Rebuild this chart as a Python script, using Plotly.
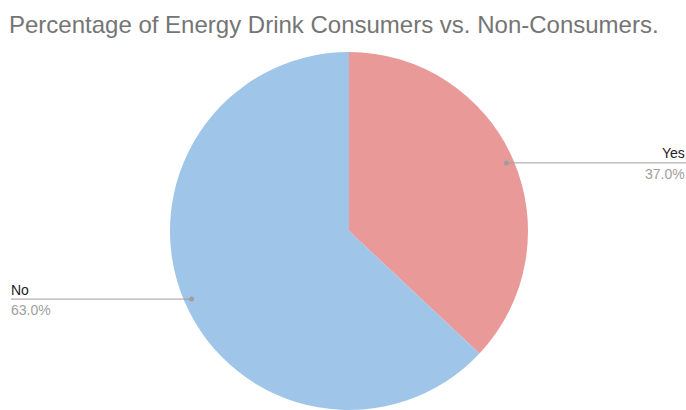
import math
import plotly.graph_objects as go

# Survey shares
labels = ["Yes", "No"]
values = [37.0, 63.0]
colors = ["#EA9999", "#9FC5E8"]

W, H = 686, 410
# Pie geometry in pixels
cx, cy, r = 349, 231, 179

FONT = "Liberation Sans, Arial, sans-serif"

fig = go.Figure(go.Pie(
    labels=labels,
    values=values,
    sort=False,
    direction="clockwise",
    rotation=0,
    textinfo="none",
    hoverinfo="label+percent",
    marker=dict(colors=colors, line=dict(width=0)),
    domain=dict(x=[(cx - r) / W, (cx + r) / W],
                y=[max(0.0, (H - cy - r) / H), min(1.0, (H - cy + r) / H)]),
    showlegend=False,
))

shapes = []
annotations = []
total = sum(values)
start = 0.0
for lab, val in zip(labels, values):
    mid = (start + val / 2) / total * 2 * math.pi
    start += val
    px = cx + math.sin(mid) * r * 0.958
    py = cy - math.cos(mid) * r * 0.958
    right = math.sin(mid) > 0
    x_end = W if right else 11
    # leader line and dot
    shapes.append(dict(type="line", xref="paper", yref="paper",
                       x0=px / W, x1=x_end / W, y0=1 - py / H, y1=1 - py / H,
                       line=dict(color="#9E9E9E", width=1)))
    shapes.append(dict(type="circle", xref="paper", yref="paper",
                       x0=(px - 2.5) / W, x1=(px + 2.5) / W,
                       y0=1 - (py + 2.5) / H, y1=1 - (py - 2.5) / H,
                       fillcolor="#9E9E9E", line=dict(width=0)))
    anchor = "right" if right else "left"
    annotations.append(dict(text=lab, xref="paper", yref="paper",
                            x=x_end / W, y=1 - (py + 0.5) / H, xanchor=anchor, yanchor="bottom",
                            showarrow=False, xshift=1 if right else -2,
                            font=dict(family=FONT, size=14, color="#222222")))
    annotations.append(dict(text=f"{val / total * 100:.1f}%", xref="paper", yref="paper",
                            x=x_end / W, y=1 - (py + 1) / H, xanchor=anchor, yanchor="top",
                            showarrow=False, xshift=1 if right else -2,
                            font=dict(family=FONT, size=14, color="#9E9E9E")))

fig.update_layout(
    width=W, height=H,
    margin=dict(l=0, r=0, t=0, b=0),
    paper_bgcolor="white",
    plot_bgcolor="white",
    title=dict(text="Percentage of Energy Drink Consumers vs. Non-Consumers.",
               x=9 / W, xanchor="left", y=1 - 25 / H, yanchor="middle",
               font=dict(family=FONT, size=24, color="#757575")),
    shapes=shapes,
    annotations=annotations,
)

fig.write_html("out.html")
